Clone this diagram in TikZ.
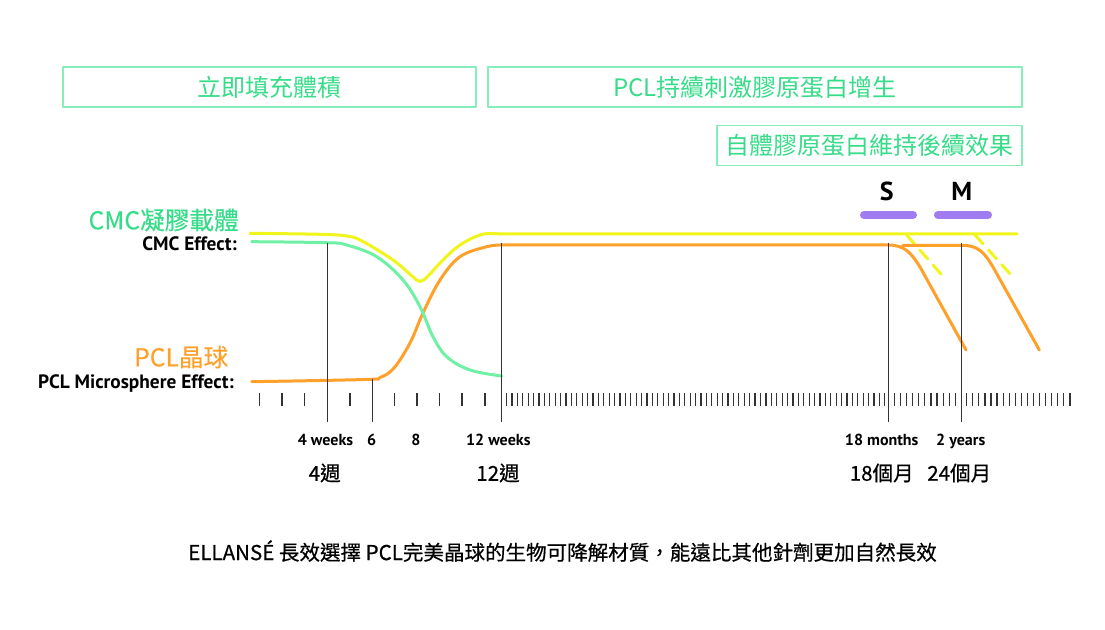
\documentclass[tikz,border=0pt]{standalone}
\usepackage{fontspec}
\setmainfont{PT Sans}
\newfontfamily\cjk{Noto Sans CJK TC}
\newfontfamily\cjkmed[FakeBold=0.3]{Noto Sans CJK TC}
\newfontfamily\cjkbold[FakeBold=0.6]{Noto Sans CJK TC}
\usetikzlibrary{positioning}
\definecolor{cmcgreen}{HTML}{36DC88}
\definecolor{cmcline}{HTML}{6EF0A5}
\definecolor{boxline}{HTML}{86EDBB}
\definecolor{pclorange}{HTML}{FFA02A}
\definecolor{sumyellow}{HTML}{F0F51C}
\definecolor{sizepurple}{HTML}{A07CF0}

\begin{document}
\begin{tikzpicture}[x=0.75pt,y=-0.75pt,line join=round]

  \tikzstyle{phase}=[rectangle,draw=boxline,line width=1pt,text=cmcgreen,
    font=\cjk\fontsize{18}{18}\selectfont,inner sep=0pt,minimum height=30pt];
  \tikzstyle{trend}=[line width=2.25pt,line cap=round];
  \tikzstyle{guide}=[draw=black!80,line width=1pt];
  \tikzstyle{tickmark}=[draw=black!80,line width=0.9pt];
  \tikzstyle{material}=[font=\cjkmed\fontsize{18.5}{18.5}\selectfont,inner sep=0pt,anchor=east];
  \tikzstyle{effect}=[font=\bfseries\fontsize{14.5}{14.5}\selectfont,inner sep=0pt,anchor=base east];
  \tikzstyle{timelabel}=[font=\bfseries\fontsize{12}{12}\selectfont,inner sep=0pt,anchor=base];
  \tikzstyle{timecn}=[font=\cjkbold\fontsize{15.4}{15.4}\selectfont,inner sep=0pt];
  \tikzstyle{sizelabel}=[font=\bfseries\fontsize{19.5}{19.5}\selectfont,inner sep=0pt];
  \tikzstyle{sizebar}=[draw=sizepurple,line width=6pt,line cap=round];

  \useasboundingbox (0,0) rectangle (1105,630);

  % phases
  \node[phase,minimum width=309.75pt] (fill) at (269.5,87) {立即填充體積};
  \node[phase,minimum width=400.5pt]  (grow) at (755,87) {PCL持續刺激膠原蛋白增生};
  \node[phase,minimum width=228.75pt] (keep) [below=12.75pt of grow.south east,anchor=north east]
    {自體膠原蛋白維持後續效果};

  % legend
  \node[material,text=cmcgreen]  (cmc)    at (239,220) {CMC凝膠載體};
  \node[effect]                  (cmceff) at (237,250.5) {CMC Effect:};
  \node[material,text=pclorange] (pcl)    at (228.5,357) {PCL晶球};
  \node[effect]                  (pcleff) at (234,388) {PCL Microsphere Effect:};

  % sizes
  \node[sizelabel] (small)  at (886.7,191.7) {S};
  \node[sizelabel] (medium) at (961.7,191.7) {M};
  \coordinate (small l)  at (864,215);
  \coordinate (small r)  at (913,215);
  \coordinate (medium l) at (938,215);
  \coordinate (medium r) at (988,215);
  \draw[sizebar] (small l) -- (small r);
  \draw[sizebar] (medium l) -- (medium r);

  % curves
  \draw[trend,sumyellow] plot[smooth,tension=0.6] coordinates {(250,233.3) (320,234.3) (346.7,236)
    (362,241) (393,260) (412,276) (420,281.5) (428,276) (443,260) (460,245) (481.7,234.5) (500,234)}
    -- (1017,234);
  \draw[trend,sumyellow,dash pattern=on 9pt off 6pt] (906.7,235) -- (941.7,275);
  \draw[trend,sumyellow,dash pattern=on 9pt off 6pt] (975,235) -- (1011,275);
  \draw[trend,pclorange] plot[smooth,tension=0.6] coordinates {(251.7,381.7) (365,379.5)
    (380,377.5) (394,368) (410,343) (423,313) (440,280) (460,256.7) (486.7,246.7) (501.7,245)}
    -- (888,245) .. controls (905,245) and (911,253) .. (920,267) -- (966,350);
  \draw[trend,pclorange] (902.7,245.3) -- (961.7,245.3)
    .. controls (978,245.3) and (984,252) .. (993,267) -- (1039.3,350);
  \draw[trend,cmcline] plot[smooth,tension=0.6] coordinates {(251.7,241.7) (326.7,242.7) (346.7,245)
    (376.7,256.7) (403,280) (420,306.7) (433,336.7) (446.7,356.7) (470,370) (501.7,376)};

  % time axis
  \foreach \x in {259.3,282,304.7,350,394.7,417,439.7,462,485}
    \draw[tickmark] (\x,393) -- ++(0,13);
  \foreach \i in {0,...,70}
    \draw[tickmark] ({506.5+5.404*\i},393) -- ++(0,13);
  \foreach \i in {0,...,10}
    \draw[tickmark] ({894.3+6.1*\i},393) -- ++(0,13);
  \foreach \i in {0,...,17}
    \draw[tickmark] ({966.7+6.07*\i},393) -- ++(0,13);

  \foreach \name/\x/\y in {w4/327.3/242.8,w6/372.3/379,w12/501.5/243,m18/888.8/243,y2/961.8/243}{
    \coordinate (\name top) at (\x,\y);
    \coordinate (\name bot) at (\x,421.5);
    \draw[guide] (\name top) -- (\name bot);
  }

  \node[timelabel] (w4lbl)  at (325.5,445.5) {4 weeks};
  \node[timelabel] (w6lbl)  at (371.7,445.5) {6};
  \node[timelabel] (w8lbl)  at (416,445.5) {8};
  \node[timelabel] (w12lbl) at (498.3,445.5) {12 weeks};
  \node[timelabel] (m18lbl) at (881.7,445.5) {18 months};
  \node[timelabel] (y2lbl)  at (960.7,445.5) {2 years};

  \node[timecn] (w4cn)  at (324.7,473) {4週};
  \node[timecn] (w12cn) at (498,473) {12週};
  \node[timecn] (m18cn) at (881.7,473) {18個月};
  \node[timecn] (y2cn)  at (959.2,473) {24個月};

  % note
  \node[timecn] (note) at (562.5,551)
    {ELLANSÉ 長效選擇 PCL完美晶球的生物可降解材質，能遠比其他針劑更加自然長效};

\end{tikzpicture}
\end{document}
